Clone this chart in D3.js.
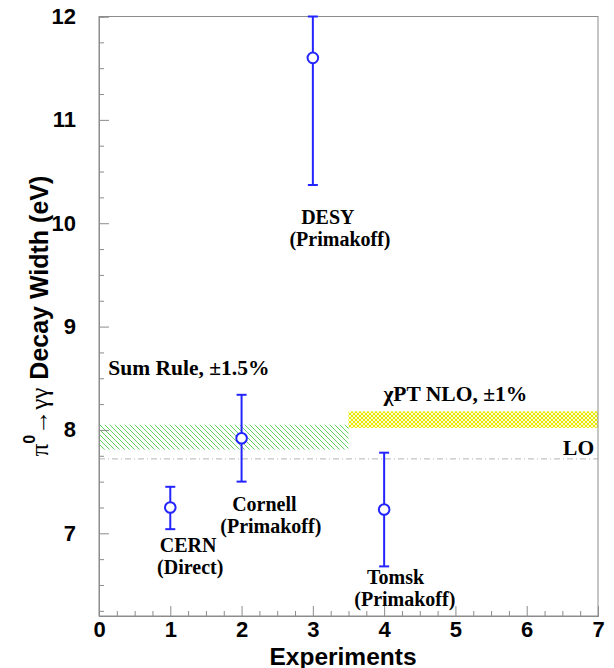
<!DOCTYPE html>
<html>
<head>
<meta charset="utf-8">
<script src="https://cdn.jsdelivr.net/npm/d3@7"></script>
<style>
  html, body { margin: 0; padding: 0; background: #fff; }
  svg { display: block; }
</style>
</head>
<body>
<svg id="chart" width="614" height="668"></svg>
<script>
// ---- data ----
const experiments = ["CERN", "Cornell", "DESY", "Tomsk"];
const methods = ["(Direct)", "(Primakoff)", "(Primakoff)", "(Primakoff)"];
const expIndex = [1, 2, 3, 4];
const decayWidth = [7.25, 7.92, 11.60, 7.23];
const errLow = [7.04, 7.50, 10.37, 6.68];
const errHigh = [7.45, 8.34, 12.00, 7.78];

const sumRuleBand = [7.81, 8.05];   // Sum Rule, ±1.5%
const sumRuleRange = [0, 3.5];
const nloBand = [8.02, 8.18];        // χPT NLO, ±1%
const nloRange = [3.5, 7];
const loValue = 7.72;                // LO

const xTicks = [0, 1, 2, 3, 4, 5, 6, 7];
const yTicks = [7, 8, 9, 10, 11, 12];

// ---- layout ----
const svg = d3.select("#chart");
const x = d3.scaleLinear().domain([0, 7]).range([99, 598]);
const y = d3.scaleLinear().domain([6.2, 12]).range([616, 16.5]);
const blue = "#2424ff";
const frameColor = "#8c8c8c";
const serif = "'Liberation Serif', 'Times New Roman', serif";
const sans = "'Liberation Sans', Arial, Helvetica, sans-serif";

// patterns
const defs = svg.append("defs");
const pg = defs.append("pattern").attr("id", "hatchGreen")
  .attr("patternUnits", "userSpaceOnUse").attr("width", 5).attr("height", 5);
pg.append("path").attr("d", "M-1,-1 L6,6 M-1,4 L1,6 M4,-1 L6,1")
  .attr("stroke", "#4fd24f").attr("stroke-width", 0.9).attr("fill", "none");
const py = defs.append("pattern").attr("id", "hatchYellow")
  .attr("patternUnits", "userSpaceOnUse").attr("width", 4).attr("height", 4);
py.append("rect").attr("width", 4).attr("height", 4).attr("fill", "#fbfbd0");
py.append("path").attr("d", "M0,0 L4,4 M4,0 L0,4")
  .attr("stroke", "#e8e800").attr("stroke-width", 1).attr("fill", "none");

// bands
svg.append("rect")
  .attr("x", x(sumRuleRange[0])).attr("width", x(sumRuleRange[1]) - x(sumRuleRange[0]))
  .attr("y", y(sumRuleBand[1])).attr("height", y(sumRuleBand[0]) - y(sumRuleBand[1]))
  .attr("fill", "url(#hatchGreen)");
svg.append("rect")
  .attr("x", x(nloRange[0])).attr("width", x(nloRange[1]) - x(nloRange[0]))
  .attr("y", y(nloBand[1])).attr("height", y(nloBand[0]) - y(nloBand[1]))
  .attr("fill", "url(#hatchYellow)");

// LO line
svg.append("line")
  .attr("x1", x(0)).attr("x2", x(7)).attr("y1", y(loValue)).attr("y2", y(loValue))
  .attr("stroke", "#b4b4b4").attr("stroke-width", 1)
  .attr("stroke-dasharray", "6,3,1,3");

// frame
svg.append("rect")
  .attr("x", x(0)).attr("y", y(12)).attr("width", x(7) - x(0)).attr("height", y(6.2) - y(12))
  .attr("fill", "none").attr("stroke", frameColor).attr("stroke-width", 1);

// axes (inward ticks)
const minorX = d3.range(0, 7.001, 0.25).filter(v => Math.abs(v - Math.round(v)) > 1e-6);
const minorY = d3.range(6.25, 12.001, 0.25).filter(v => Math.abs(v - Math.round(v)) > 1e-6);

const gx = svg.append("g").attr("transform", `translate(0,${y(6.2)})`);
gx.call(d3.axisBottom(x).tickValues(xTicks).tickSize(-10).tickPadding(5).tickFormat(d3.format("d")));
const gxm = svg.append("g").attr("transform", `translate(0,${y(6.2)})`);
gxm.call(d3.axisBottom(x).tickValues(minorX).tickSize(-5).tickFormat(""));

const gy = svg.append("g").attr("transform", `translate(${x(0)},0)`);
gy.call(d3.axisLeft(y).tickValues(yTicks).tickSize(-10).tickPadding(23).tickFormat(d3.format("d")));
const gym = svg.append("g").attr("transform", `translate(${x(0)},0)`);
gym.call(d3.axisLeft(y).tickValues(minorY).tickSize(-5).tickFormat(""));

svg.selectAll(".domain").attr("stroke", frameColor);
svg.selectAll(".tick line").attr("stroke", frameColor);
svg.selectAll(".tick text")
  .attr("font-family", sans).attr("font-weight", "bold").attr("font-size", 22).attr("fill", "#000");
gx.selectAll(".tick text").attr("dy", "0.71em");

// axis titles
svg.append("text")
  .attr("x", 343).attr("y", 664.5).attr("text-anchor", "middle")
  .attr("font-family", sans).attr("font-weight", "bold").attr("font-size", 24.5)
  .text("Experiments");

const yl = svg.append("text")
  .attr("transform", "translate(48,316) rotate(-90)")
  .attr("text-anchor", "middle");
yl.append("tspan").attr("font-family", serif).attr("font-size", 25).text("π");
yl.append("tspan").attr("font-family", sans).attr("font-weight", "bold").attr("font-size", 16)
  .attr("dy", -13).text("0");
yl.append("tspan").attr("font-family", serif).attr("font-size", 25).attr("dy", 13).text("→γγ");
yl.append("tspan").attr("font-family", sans).attr("font-weight", "bold").attr("font-size", 25)
  .attr("dx", 8).text("Decay Width (eV)");

// error bars + markers
const pts = svg.append("g");
expIndex.forEach((xi, i) => {
  const cx = x(xi);
  pts.append("line").attr("x1", cx).attr("x2", cx)
    .attr("y1", y(errLow[i])).attr("y2", y(errHigh[i]))
    .attr("stroke", blue).attr("stroke-width", 2);
  [errLow[i], errHigh[i]].forEach(v => {
    pts.append("line").attr("x1", cx - 5).attr("x2", cx + 5)
      .attr("y1", y(v)).attr("y2", y(v))
      .attr("stroke", blue).attr("stroke-width", 2);
  });
  pts.append("circle").attr("cx", cx).attr("cy", y(decayWidth[i])).attr("r", 5.3)
    .attr("fill", "#fff").attr("stroke", blue).attr("stroke-width", 2);
});

// experiment labels (data-space anchors), two lines per label
const labelX1 = [1.25, 2.32, 3.21, 4.16];
const labelY1 = [6.815, 7.215, 9.995, 6.505];
const labelDX2 = [0.03, 0.09, 0.17, 0.13];
const labelGap = [22, 22, 22, 22];
const ann = svg.append("g").attr("font-family", serif).attr("font-weight", "bold")
  .attr("font-size", 20).attr("text-anchor", "middle").attr("fill", "#000");
experiments.forEach((name, i) => {
  ann.append("text").attr("x", x(labelX1[i])).attr("y", y(labelY1[i])).text(name);
  ann.append("text").attr("x", x(labelX1[i] + labelDX2[i])).attr("y", y(labelY1[i]) + labelGap[i])
    .text(methods[i]);
});

// band labels
const bl = svg.append("g").attr("font-family", serif).attr("font-weight", "bold")
  .attr("font-size", 21.5).attr("fill", "#000");
bl.append("text").attr("x", x(0.13)).attr("y", y(8.53)).text("Sum Rule, ±1.5%");
bl.append("text").attr("x", x(3.99)).attr("y", y(8.28)).text("χPT NLO, ±1%");
bl.append("text").attr("x", x(6.51)).attr("y", y(7.76)).text("LO");
</script>
</body>
</html>
